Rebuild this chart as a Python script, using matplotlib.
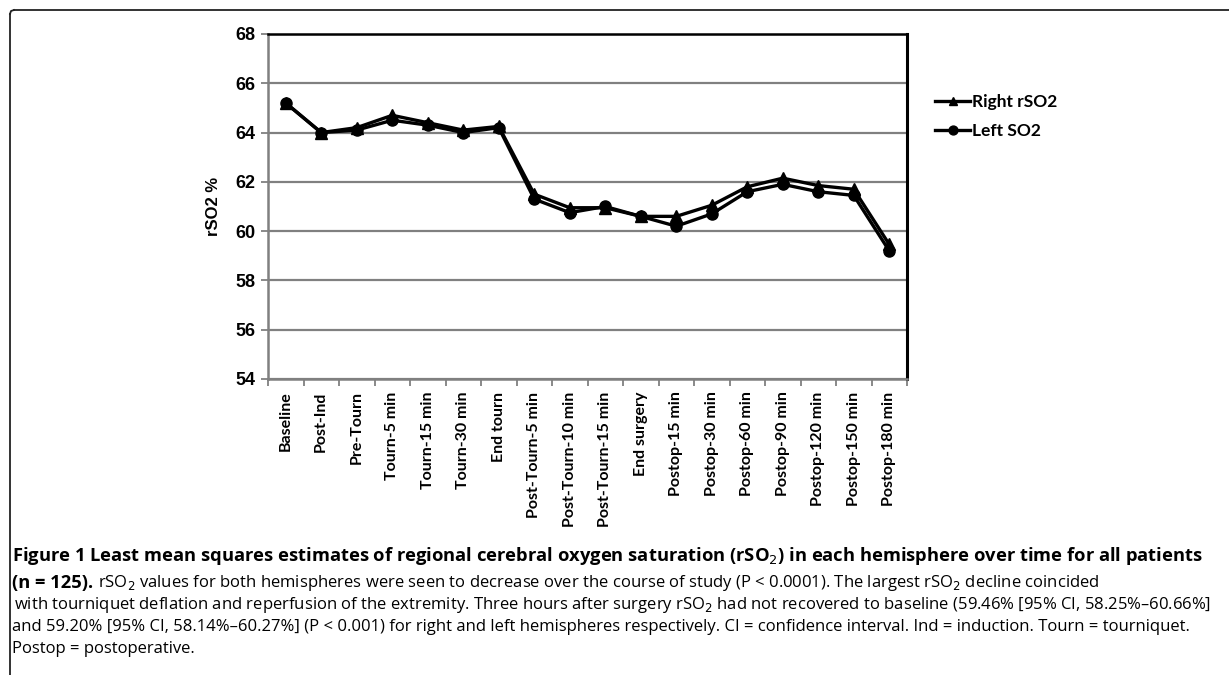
# rSO2 over time, right vs left hemisphere (figure 1 reproduction)
import numpy as np
import matplotlib.pyplot as plt

times = ["Baseline", "Post-Ind", "Pre-Tourn", "Tourn-5 min", "Tourn-15 min",
         "Tourn-30 min", "End tourn", "Post-Tourn-5 min", "Post-Tourn-10 min",
         "Post-Tourn-15 min", "End surgery", "Postop-15 min", "Postop-30 min",
         "Postop-60 min", "Postop-90 min", "Postop-120 min", "Postop-150 min",
         "Postop-180 min"]
right_rso2 = [65.2, 64.0, 64.2, 64.7, 64.4, 64.1, 64.25, 61.5, 60.95, 60.95,
              60.6, 60.6, 61.05, 61.8, 62.15, 61.85, 61.7, 59.46]
left_so2 = [65.2, 64.0, 64.1, 64.5, 64.3, 64.0, 64.2, 61.3, 60.75, 61.0,
            60.6, 60.2, 60.7, 61.6, 61.9, 61.6, 61.45, 59.2]
yticks = [54, 56, 58, 60, 62, 64, 66, 68]

W, H = 1229, 675
fig = plt.figure(figsize=(W / 100, H / 100), dpi=100)

# frame round the figure (top and left only)
fig.add_artist(plt.Line2D([14 / W, 1.0], [1 - 10 / H, 1 - 10 / H], color="#222222", lw=1.3))
fig.add_artist(plt.Line2D([10 / W, 10 / W], [0.0, 1 - 14 / H], color="#222222", lw=1.3))
fig.add_artist(plt.Line2D([10 / W, 11 / W, 14 / W], [1 - 14 / H, 1 - 11 / H, 1 - 10 / H],
                          color="#222222", lw=1.3))

ax = fig.add_axes([268 / W, 1 - 379 / H, 639 / W, 345 / H])
x = np.arange(len(times))

ax.plot(x, right_rso2, color="black", lw=2.4, marker="^", ms=8, label="Right rSO2", zorder=3)
ax.plot(x, left_so2, color="black", lw=2.4, marker="o", ms=8, label="Left SO2", zorder=3)

ax.set_ylim(54, 68)
ax.set_xlim(-0.5, len(times) - 0.5)
ax.set_yticks(yticks)
ax.set_yticklabels([str(v) for v in yticks], fontfamily="Liberation Sans",
                   fontweight="bold", fontsize=13)
ax.yaxis.grid(True, color="#808080", lw=1.6)
ax.set_axisbelow(True)

ax.set_xticks(x)
ax.set_xticklabels(times, rotation=90, fontfamily="Lato",
                   fontweight="bold", fontsize=11.5)
ax.set_xticks(np.arange(-0.5, len(times)), minor=True)
ax.tick_params(axis="x", which="major", length=0, pad=9)
ax.tick_params(axis="x", which="minor", length=5, width=1.3, color="#808080", direction="out")
ax.tick_params(axis="y", length=5, width=1.3, color="#808080", pad=4)

for side in ["left", "bottom"]:
    ax.spines[side].set_color("#808080")
    ax.spines[side].set_linewidth(1.8)
ax.spines["top"].set_color("black")
ax.spines["top"].set_linewidth(1.8)
ax.spines["right"].set_color("black")
ax.spines["right"].set_linewidth(2.2)

ax.set_ylabel("rSO2 %", fontfamily="Liberation Sans", fontweight="bold",
              fontsize=12, labelpad=10)

ax.legend(loc="upper left", bbox_to_anchor=(1.02, 0.87), frameon=False,
          handlelength=2.0, handletextpad=0.1, labelspacing=0.7, markerscale=0.8,
          prop={"family": "Lato", "weight": "bold", "size": 12.5})

# caption
cap_font = "Open Sans"
fig.text(12 / W, 1 - 556 / H,
         r"Figure 1 Least mean squares estimates of regional cerebral oxygen saturation (rSO$_2$) in each hemisphere over time for all patients",
         fontfamily=cap_font, fontweight="bold", fontsize=13.2, va="center")
n_txt = fig.text(12 / W, 1 - 583 / H, "(n = 125).", fontfamily=cap_font,
                 fontweight="bold", fontsize=13.2, va="center")
fig.canvas.draw()
bb = n_txt.get_window_extent()
fig.text((bb.x1 + 5) / W, 1 - 583 / H,
         r"rSO$_2$ values for both hemispheres were seen to decrease over the course of study (P < 0.0001). The largest rSO$_2$ decline coincided",
         fontfamily=cap_font, fontsize=12, va="center")
fig.text(14 / W, 1 - 605 / H,
         r"with tourniquet deflation and reperfusion of the extremity. Three hours after surgery rSO$_2$ had not recovered to baseline (59.46% [95% CI, 58.25%–60.66%]",
         fontfamily=cap_font, fontsize=12, va="center")
fig.text(12 / W, 1 - 627 / H,
         "and 59.20% [95% CI, 58.14%–60.27%] (P < 0.001) for right and left hemispheres respectively. CI = confidence interval. Ind = induction. Tourn = tourniquet.",
         fontfamily=cap_font, fontsize=12, va="center")
fig.text(12 / W, 1 - 649 / H, "Postop = postoperative.",
         fontfamily=cap_font, fontsize=12, va="center")

fig.savefig("out.png", dpi=100)
